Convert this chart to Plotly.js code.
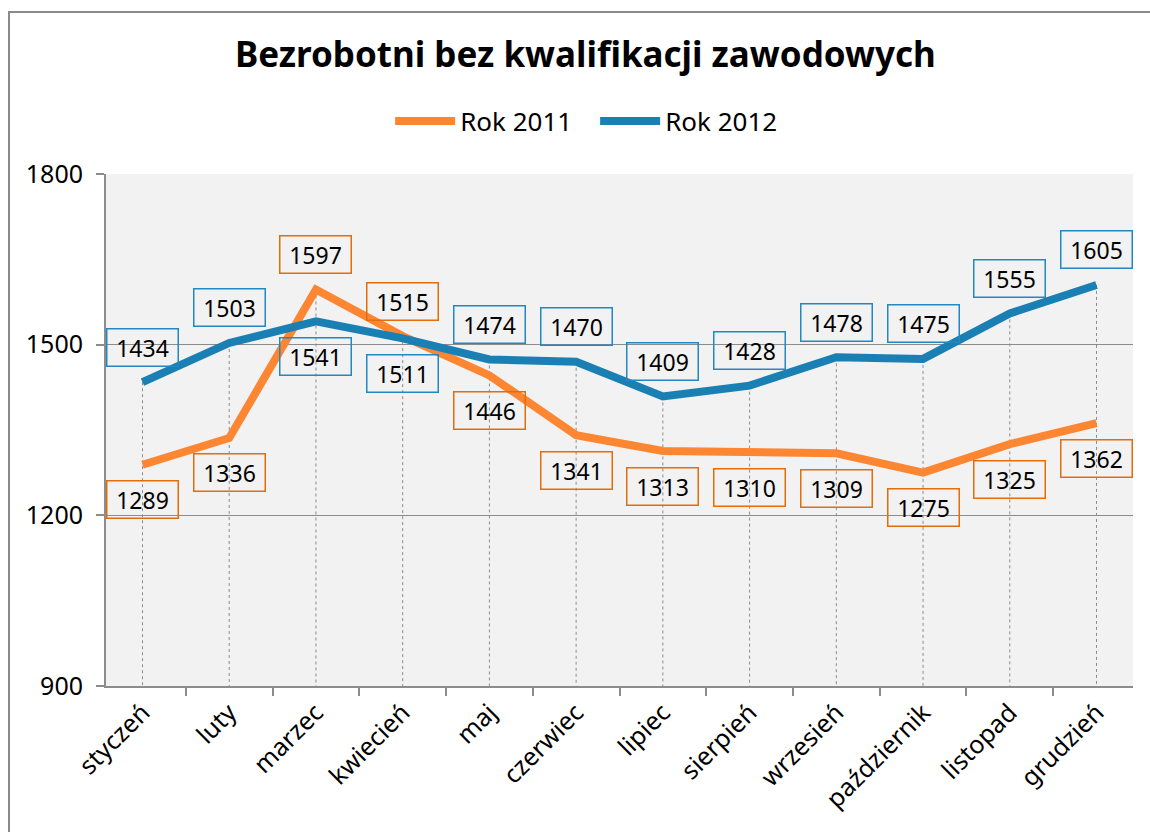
<!DOCTYPE html>
<html>
<head>
<meta charset="utf-8">
<script src="https://cdn.plot.ly/plotly-3.0.1.min.js"></script>
<style>
  html, body { margin: 0; padding: 0; background: #ffffff; }
  #wrap { position: relative; width: 1150px; height: 832px; overflow: hidden; }
  #chart { position: absolute; left: 0; top: 0; width: 1150px; height: 832px; }
  #frame { position: absolute; left: 8px; top: 11px; width: 1200px; height: 900px;
           border: 2px solid #8a8a8a; pointer-events: none; z-index: 5; }
</style>
</head>
<body>
<div id="wrap">
  <div id="chart"></div>
  <div id="frame"></div>
</div>
<script>
const months = ["styczeń", "luty", "marzec", "kwiecień", "maj", "czerwiec",
                "lipiec", "sierpień", "wrzesień", "październik", "listopad", "grudzień"];
const rok2011 = [1289, 1336, 1597, 1515, 1446, 1341, 1313, 1310, 1309, 1275, 1325, 1362];
const rok2012 = [1434, 1503, 1541, 1511, 1474, 1470, 1409, 1428, 1478, 1475, 1555, 1605];
const yTicks = [900, 1200, 1500, 1800];
const seriesNames = ["Rok 2011", "Rok 2012"];

const FONT = "Noto Sans, DejaVu Sans, sans-serif";
const ORANGE = "#fd8633";
const ORANGE_BOX = "#e46c0a";
const BLUE = "#1a80b4";
const BLUE_BOX = "#2387c2";

// drop lines from the higher point down to the axis
const dropX = [], dropY = [];
months.forEach((m, i) => {
  dropX.push(m, m, null);
  dropY.push(Math.max(rok2011[i], rok2012[i]), yTicks[0], null);
});

const traces = [
  { x: dropX, y: dropY, type: "scatter", mode: "lines", showlegend: false,
    hoverinfo: "skip", line: { color: "#8c8c8c", width: 1, dash: "dot" } },
  { x: months, y: rok2011, type: "scatter", mode: "lines", name: seriesNames[0],
    line: { color: ORANGE, width: 8 } },
  { x: months, y: rok2012, type: "scatter", mode: "lines", name: seriesNames[1],
    line: { color: BLUE, width: 8 } }
];

const annotations = [];
months.forEach((m, i) => {
  const orangeOnTop = rok2011[i] > rok2012[i];
  annotations.push({
    x: m, y: rok2011[i], xref: "x", yref: "y", text: String(rok2011[i]),
    showarrow: false, yshift: orangeOnTop ? 35 : -35,
    width: 68, height: 34, bordercolor: ORANGE_BOX, borderwidth: 1.5, borderpad: 1,
    font: { family: FONT, size: 23, color: "#000" }
  });
  annotations.push({
    x: m, y: rok2012[i], xref: "x", yref: "y", text: String(rok2012[i]),
    showarrow: false, yshift: orangeOnTop ? -35 : 35,
    width: 68, height: 34, bordercolor: BLUE_BOX, borderwidth: 1.5, borderpad: 1,
    font: { family: FONT, size: 23, color: "#000" }
  });
});

const layout = {
  width: 1150, height: 832,
  margin: { l: 106, r: 17, t: 174, b: 146, pad: 0 },
  paper_bgcolor: "#ffffff",
  plot_bgcolor: "#f2f2f2",
  font: { family: FONT, size: 24, color: "#000" },
  title: {
    text: "<b>Bezrobotni bez kwalifikacji zawodowych</b>",
    font: { family: FONT, size: 35, color: "#000" },
    x: 0.509, xanchor: "center", xref: "container",
    y: 1 - 55 / 832, yanchor: "middle", yref: "container"
  },
  showlegend: true,
  legend: {
    orientation: "h", xref: "container", yref: "container",
    x: 0.5175, xanchor: "center", y: 1 - 121 / 832, yanchor: "middle",
    font: { family: FONT, size: 26, color: "#000" },
    itemwidth: 60, entrywidth: 130, tracegroupgap: 0, bgcolor: "rgba(0,0,0,0)"
  },
  xaxis: {
    type: "category", showgrid: false, zeroline: false,
    showline: true, linecolor: "#8c8c8c", linewidth: 2,
    ticks: "outside", tickson: "boundaries", ticklen: 8, tickcolor: "#8c8c8c", tickwidth: 2,
    tickangle: -45, tickfont: { family: FONT, size: 25, color: "#000" },
    fixedrange: true
  },
  yaxis: {
    range: [yTicks[0], yTicks[yTicks.length - 1]], tickvals: yTicks,
    showgrid: true, gridcolor: "#8c8c8c", gridwidth: 1.5, zeroline: false,
    showline: true, linecolor: "#8c8c8c", linewidth: 2,
    ticks: "outside", ticklen: 8, tickcolor: "#8c8c8c", tickwidth: 2,
    ticklabelstandoff: 8,
    tickfont: { family: FONT, size: 25, color: "#000" },
    fixedrange: true
  },
  annotations: annotations
};

Plotly.newPlot("chart", traces, layout, { displayModeBar: false, staticPlot: true });
</script>
</body>
</html>
